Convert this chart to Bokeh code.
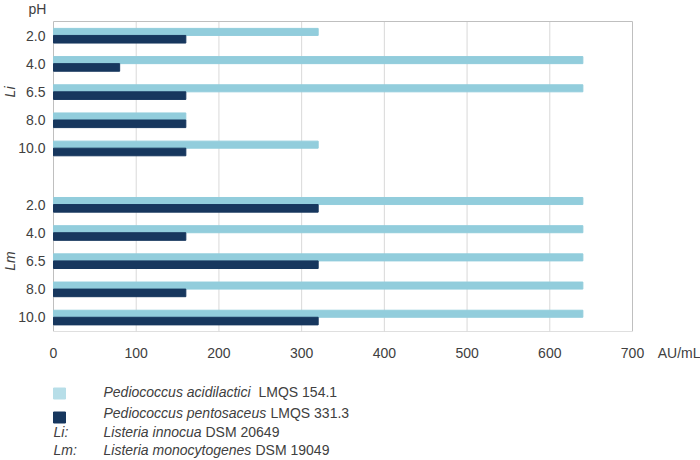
import math
from bokeh.plotting import figure
from bokeh.models import Range1d, FixedTicker, ColumnDataSource
from bokeh.layouts import column
from bokeh.core.properties import value
from bokeh.embed import file_html
from bokeh.resources import INLINE

# ---- data ----
ph_levels = ["2.0", "4.0", "6.5", "8.0", "10.0"]
strains = ["Li", "Lm"]
acidilactici_li = [320, 640, 640, 160, 320]
pentosaceus_li = [160, 80, 160, 160, 160]
acidilactici_lm = [640, 640, 640, 640, 640]
pentosaceus_lm = [320, 160, 320, 160, 320]
x_ticks = [0, 100, 200, 300, 400, 500, 600, 700]
x_unit = "AU/mL"
y_title = "pH"
legend_prefix = ["", "", "Li:", "Lm:"]
legend_italic = ["Pediococcus acidilactici", "Pediococcus pentosaceus",
                 "Listeria innocua", "Listeria monocytogenes"]
legend_normal = ["LMQS 154.1", "LMQS 331.3", "DSM 20649", "DSM 19049"]

# ---- style ----
LIGHT = "#92CDDC"
LIGHT_SW = "#B7DEE8"
DARK = "#17375E"
TXT = "#404040"
BOX = "#BFBFBF"
GRID = "#D9D9D9"
FONT = "Liberation Sans"
FS = "14px"

W = 700
H1 = 370           # main panel (plot box 53..632 x 21..331)
H2 = 90            # legend panel
BOX_L, BOX_R, BOX_T, BOX_B = 53, 632, 21, 331

# slot positions: 5 levels per strain, one empty slot between groups
n = len(ph_levels)
slots_li = [i for i in range(n)]
slots_lm = [n + 1 + i for i in range(n)]
slots = slots_li + slots_lm
n_slots = len(slots) + 1
light_vals = acidilactici_li + acidilactici_lm
dark_vals = pentosaceus_li + pentosaceus_lm

x_max = x_ticks[-1]
px_per_x = (BOX_R - BOX_L) / x_max
px_per_slot = (BOX_B - BOX_T) / n_slots
x_lo = -BOX_L / px_per_x
x_hi = x_max + (W - BOX_R) / px_per_x
y_top = -0.5 - BOX_T / px_per_slot
y_bot = n_slots - 0.5

def px_x(px):
    return (px - BOX_L) / px_per_x

def px_y(py):
    return -0.5 + (py - BOX_T) / px_per_slot

src = ColumnDataSource(dict(
    y_light=[s - 0.13 for s in slots],
    y_dark=[s + 0.13 for s in slots],
    light=light_vals,
    dark=dark_vals,
))

p = figure(width=W, height=H1, x_range=Range1d(x_lo, x_hi),
           y_range=Range1d(y_bot, y_top),
           output_backend="svg", toolbar_location=None,
           y_axis_location=None,
           min_border_left=0, min_border_right=0,
           min_border_top=0, min_border_bottom=H1 - BOX_B)
p.background_fill_color = "white"
p.border_fill_color = "white"
p.outline_line_color = None
p.grid.visible = False

# vertical grid lines and plot box
grid_x = x_ticks[1:-1]
p.segment(x0=grid_x, y0=-0.5, x1=grid_x, y1=y_bot, line_color=GRID, line_width=1)
p.quad(left=[0], right=[x_max], top=[-0.5], bottom=[y_bot],
       fill_color=None, line_color=BOX, line_width=1)

# bars
p.hbar(y="y_light", left=0, right="light", height=0.25, color=LIGHT, source=src)
p.hbar(y="y_dark", left=0, right="dark", height=0.27, color=DARK, source=src)

# x axis (with unit label placed as an extra tick to the right of 700)
unit_tick = round(px_x(679))
xa = p.xaxis[0]
xa.ticker = FixedTicker(ticks=x_ticks + [unit_tick])
xa.major_label_overrides = {unit_tick: x_unit}
xa.axis_line_color = None
xa.major_tick_line_color = None
xa.minor_tick_line_color = None
xa.major_tick_out = 0
xa.major_tick_in = 0
xa.major_label_standoff = 13
xa.major_label_text_font = FONT
xa.major_label_text_font_size = FS
xa.major_label_text_color = TXT

txt = dict(text_font=value(FONT), text_font_size=FS, text_color=TXT,
           text_baseline="middle")

# y tick labels
p.text(x=[0] * len(slots), y=slots, text=ph_levels + ph_levels,
       x_offset=-8, text_align="right", **txt)
# strain group labels
p.text(x=[0, 0], y=[sum(slots_li) / n, sum(slots_lm) / n], text=strains,
       x_offset=-44, angle=math.pi / 2, text_align="center",
       text_font_style="italic", **txt)
# pH header
p.text(x=[0], y=[px_y(8)], text=[y_title], x_offset=-16, text_align="center", **txt)

# ---- legend panel (1 unit = 1 px) ----
p2 = figure(width=W, height=H2, x_range=Range1d(0, W), y_range=Range1d(H2, 0),
            output_backend="svg", toolbar_location=None,
            x_axis_location=None, y_axis_location=None,
            min_border_left=0, min_border_right=0,
            min_border_top=0, min_border_bottom=0)
p2.outline_line_color = None
p2.grid.visible = False
p2.background_fill_color = "white"
p2.border_fill_color = "white"

row_y = [21, 42, 61, 79]
p2.rect(x=[59, 59], y=[23, 47], width=12, height=11, color=[LIGHT_SW, DARK])
p2.text(x=[53] * 4, y=row_y, text=legend_prefix, text_align="left",
        text_font_style="italic", **txt)
p2.text(x=[103] * 4, y=row_y, text=legend_italic, text_align="left",
        text_font_style="italic", **txt)
p2.text(x=[258, 270, 205, 255], y=row_y, text=legend_normal, text_align="left", **txt)

layout = column(p, p2, spacing=0)
open("out.html", "w").write(file_html(layout, INLINE))
